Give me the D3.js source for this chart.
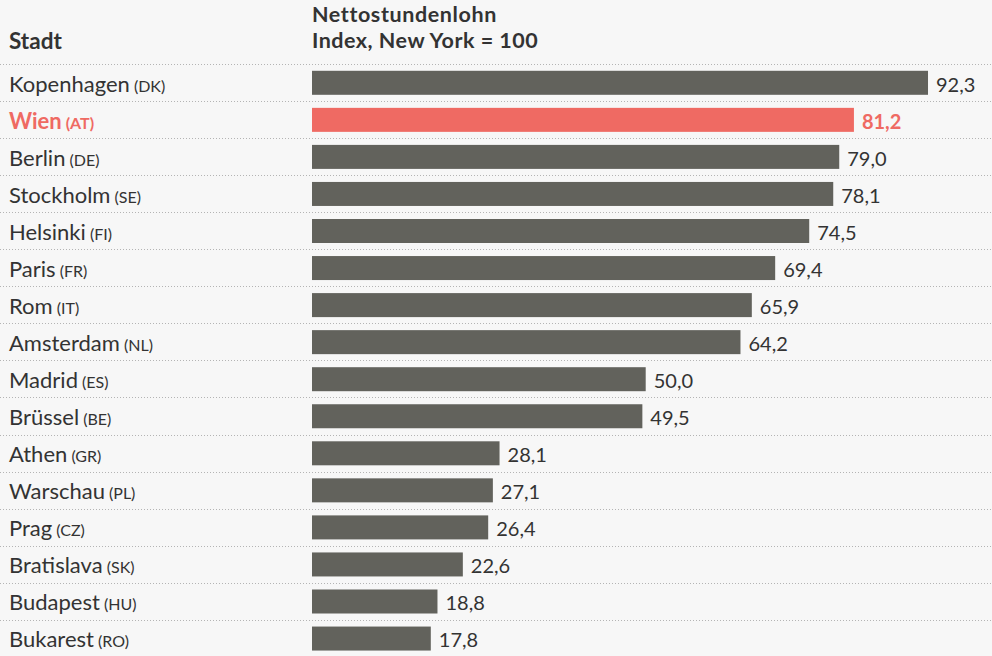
<!DOCTYPE html>
<html><head><meta charset="utf-8">
<script src="https://cdn.jsdelivr.net/npm/d3@7"></script>
<style>
html,body{margin:0;padding:0;background:#f7f7f7;}
svg{display:block;}
text{font-family:Lato,"Noto Sans",sans-serif;}
</style></head>
<body><svg id="c" width="992" height="656"></svg>
<script>
const cities = ["Kopenhagen","Wien","Berlin","Stockholm","Helsinki","Paris","Rom","Amsterdam","Madrid","Brüssel","Athen","Warschau","Prag","Bratislava","Budapest","Bukarest"];
const codes = ["DK","AT","DE","SE","FI","FR","IT","NL","ES","BE","GR","PL","CZ","SK","HU","RO"];
const values = [92.3,81.2,79.0,78.1,74.5,69.4,65.9,64.2,50.0,49.5,28.1,27.1,26.4,22.6,18.8,17.8];
const highlight = "Wien";
const headerLeft = "Stadt";
const headerRight = ["Nettostundenlohn","Index, New York = 100"];

(function(){
const svg = d3.select("#c");
const W = 992;
const y0 = 64, rowH = 37.05;
const x = d3.scaleLinear().domain([0,100]).range([312, 979.4]);
const y = d3.scaleBand().domain(cities).range([y0, y0 + rowH*cities.length]).paddingInner(0).paddingOuter(0);
const barH = 24, barOff = 6.8;
const grey = "#62625c", red = "#ef6a63", txt = "#333333";
const fmt = v => v.toFixed(1).replace(".", ",");
const base = d => y(d) + barOff + barH/2 + 8.9;

svg.append("g").selectAll("line").data(cities).join("line")
  .attr("x1",0).attr("x2",W)
  .attr("y1",d=>Math.round(y(d))+0.5).attr("y2",d=>Math.round(y(d))+0.5)
  .attr("stroke","#b4b4b4").attr("stroke-width",1).attr("stroke-dasharray","1,2");

svg.append("text").attr("x",9).attr("y",48.5).attr("font-size",22.5).attr("font-weight",700).attr("fill",txt).text(headerLeft);
svg.append("text").attr("x",312).attr("y",22).attr("font-size",21.5).attr("letter-spacing",0.6).attr("font-weight",700).attr("fill",txt).text(headerRight[0]);
svg.append("text").attr("x",312).attr("y",48).attr("font-size",21.5).attr("letter-spacing",0.5).attr("font-weight",700).attr("fill",txt).text(headerRight[1]);

const rows = svg.append("g").selectAll("g").data(cities).join("g");
rows.append("rect")
  .attr("x",x(0)).attr("y",d=>y(d)+barOff)
  .attr("width",(d,i)=>x(values[i])-x(0)).attr("height",barH)
  .attr("fill",d=>d===highlight?red:grey);

const lab = rows.append("text").attr("x",9).attr("y",base)
  .attr("font-size",22).attr("fill",d=>d===highlight?red:txt)
  .attr("font-weight",d=>d===highlight?700:400);
lab.append("tspan").text(d=>d);
lab.append("tspan").attr("font-size",16).text((d,i)=>" ("+codes[i]+")");

rows.append("text").attr("x",(d,i)=>x(values[i])+8).attr("y",base)
  .attr("font-size",20).attr("fill",d=>d===highlight?red:txt)
  .attr("font-weight",d=>d===highlight?700:400)
  .text((d,i)=>fmt(values[i]));
})();
</script></body></html>
